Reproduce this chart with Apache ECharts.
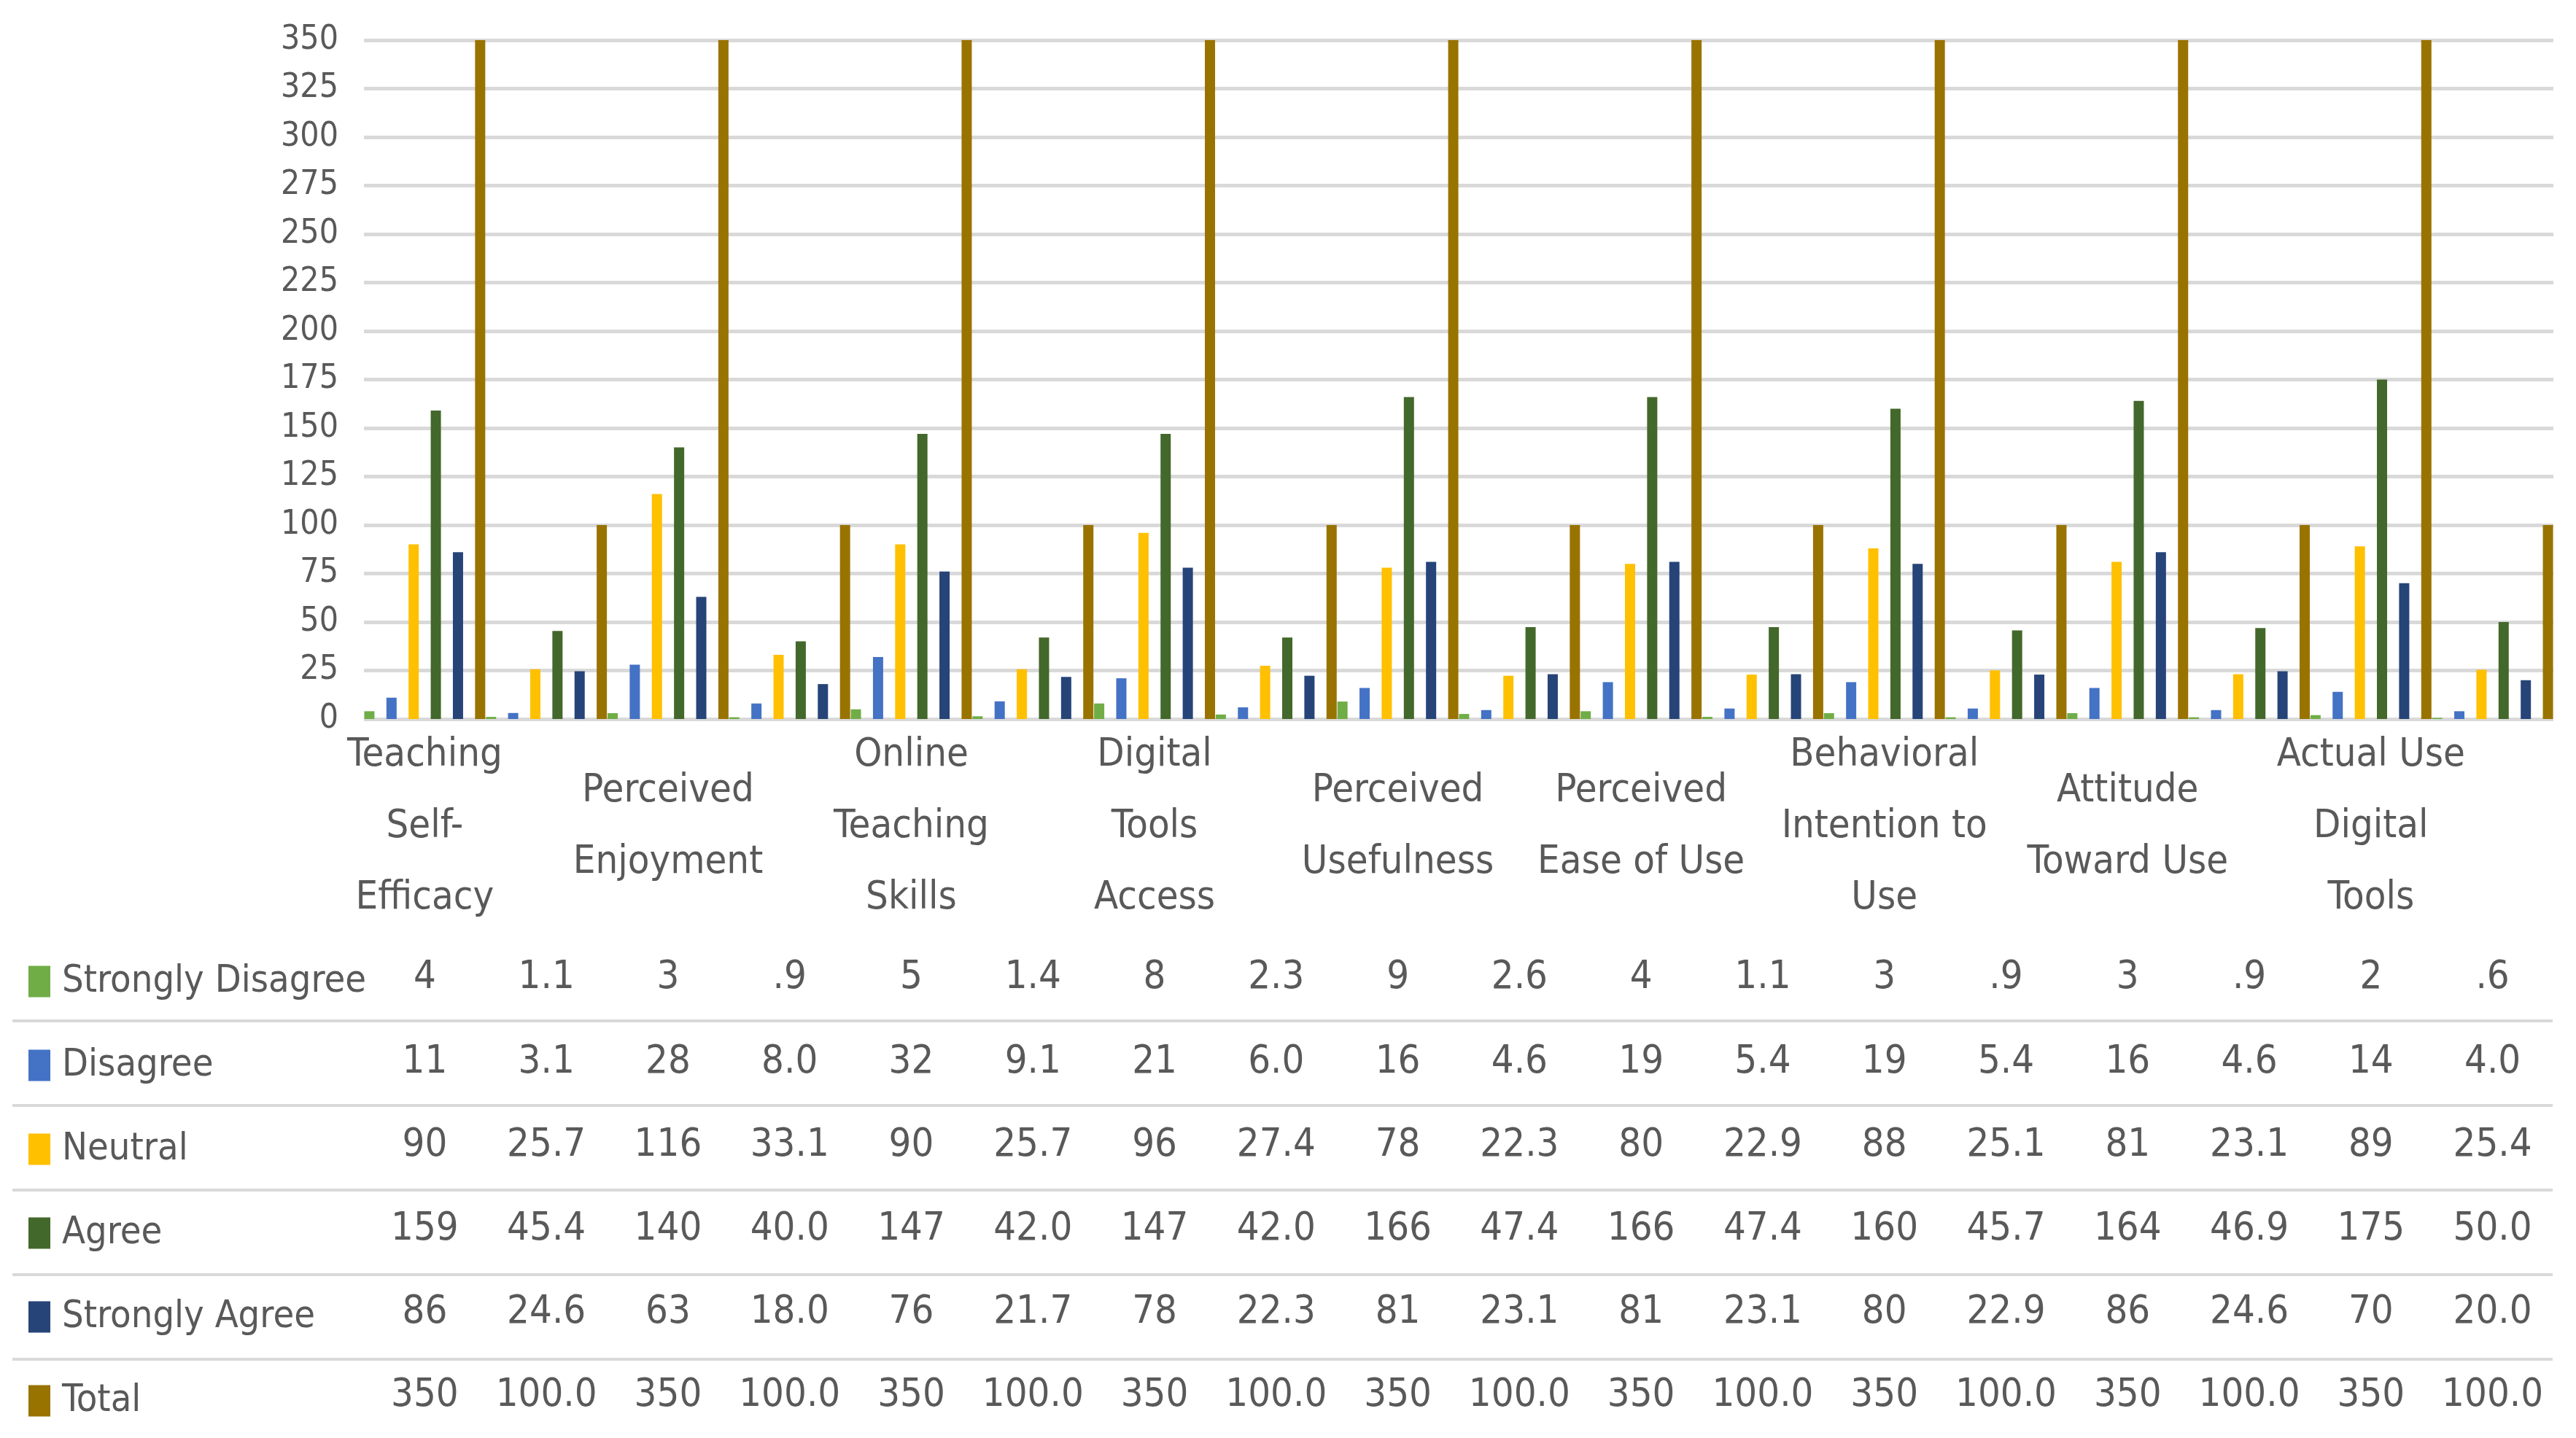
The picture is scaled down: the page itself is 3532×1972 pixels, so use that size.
<!DOCTYPE html>
<html>
<head>
<meta charset="utf-8">
<title>Survey responses by construct</title>
<script src="https://cdn.jsdelivr.net/npm/echarts@6/dist/echarts.min.js"></script>
<style>
  html, body { margin: 0; padding: 0; background: #fff; }
  #main { width: 3532px; height: 1972px; }
</style>
</head>
<body>
<div id="main"></div>
<script>
// constructs, each one has a count column and a percent column
var constructs = ['Teaching\nSelf-\nEfficacy', 'Perceived\nEnjoyment', 'Online\nTeaching\nSkills',
  'Digital\nTools\nAccess', 'Perceived\nUsefulness', 'Perceived\nEase of Use',
  'Behavioral\nIntention to\nUse', 'Attitude\nToward Use', 'Actual Use\nDigital\nTools'];

var levels = ['Strongly Disagree', 'Disagree', 'Neutral', 'Agree', 'Strongly Agree', 'Total'];
var colors = ['#70AD47', '#4472C4', '#FFC000', '#43682B', '#264478', '#997300'];

// count, percent, count, percent ...
var stronglyDisagree = [4, 1.1, 3, 0.9, 5, 1.4, 8, 2.3, 9, 2.6, 4, 1.1, 3, 0.9, 3, 0.9, 2, 0.6];
var disagree = [11, 3.1, 28, 8.0, 32, 9.1, 21, 6.0, 16, 4.6, 19, 5.4, 19, 5.4, 16, 4.6, 14, 4.0];
var neutral = [90, 25.7, 116, 33.1, 90, 25.7, 96, 27.4, 78, 22.3, 80, 22.9, 88, 25.1, 81, 23.1, 89, 25.4];
var agree = [159, 45.4, 140, 40.0, 147, 42.0, 147, 42.0, 166, 47.4, 166, 47.4, 160, 45.7, 164, 46.9, 175, 50.0];
var stronglyAgree = [86, 24.6, 63, 18.0, 76, 21.7, 78, 22.3, 81, 23.1, 81, 23.1, 80, 22.9, 86, 24.6, 70, 20.0];
var total = [350, 100.0, 350, 100.0, 350, 100.0, 350, 100.0, 350, 100.0, 350, 100.0, 350, 100.0, 350, 100.0, 350, 100.0];

var rows = [stronglyDisagree, disagree, neutral, agree, stronglyAgree, total];

var yTicks = { min: 0, max: 350, interval: 25 };

var font = "'Liberation Sans Narrow', 'DejaVu Sans Condensed', 'Liberation Sans', sans-serif";
var textColor = '#595959';
var baseY = 986;                       // where the 0 line sits
var rowCenters = [1341, 1457, 1571, 1686, 1800, 1914];

var columns = [];
for (var i = 0; i < stronglyDisagree.length; i++) columns.push('c' + i);

// table text: counts as integers, percents with one decimal and no leading zero
function cellText(v, idx) {
  if (idx % 2 === 0) return String(v);
  return v.toFixed(1).replace(/^0\./, '.');
}

var myChart = echarts.init(document.getElementById('main'));

var xAxes = [
  {
    type: 'category', gridIndex: 0, data: columns, position: 'bottom',
    axisLine: { show: false }, axisTick: { show: false }, axisLabel: { show: false }
  },
  {
    // construct names sit under the count column of each pair
    type: 'category', gridIndex: 0, data: columns, position: 'bottom', offset: 0,
    axisLine: { show: false }, axisTick: { show: false },
    axisLabel: {
      interval: 0, margin: 148, verticalAlign: 'middle', align: 'center',
      fontFamily: font, fontSize: 54, lineHeight: 98, color: textColor,
      formatter: function (val, idx) { return idx % 2 === 0 ? constructs[idx / 2] : ''; }
    }
  }
];

rows.forEach(function (row, r) {
  xAxes.push({
    type: 'category', gridIndex: 0, data: columns, position: 'bottom',
    offset: rowCenters[r] - baseY,
    axisLine: { show: false }, axisTick: { show: false },
    axisLabel: {
      interval: 0, margin: 0, verticalAlign: 'middle', align: 'center',
      fontFamily: font, fontSize: 54, color: textColor,
      formatter: function (val, idx) { return cellText(row[idx], idx); }
    }
  });
});

// hidden x axis for the table-lines grid
xAxes.push({ type: 'value', gridIndex: 1, show: false, min: 0, max: 1 });

var option = {
  backgroundColor: '#ffffff',
  animation: false,
  textStyle: { fontFamily: font },
  legend: {
    orient: 'vertical',
    left: 34,
    top: 1311,
    itemWidth: 30,
    itemHeight: 43,
    itemGap: 55,
    icon: 'rect',
    data: levels,
    textStyle: {
      fontFamily: font, fontSize: 52, lineHeight: 60, color: textColor,
      padding: [0, 0, 0, 11]
    }
  },
  grid: [
    { left: 499, right: 31, top: 55, bottom: 1972 - baseY },
    { left: 17, right: 32, top: 1400, bottom: 108 }
  ],
  xAxis: xAxes,
  yAxis: [
    {
      type: 'value', gridIndex: 0,
      min: yTicks.min, max: yTicks.max, interval: yTicks.interval,
      axisLine: { show: false }, axisTick: { show: false },
      splitLine: { lineStyle: { color: '#D9D9D9', width: 5 } },
      axisLabel: { fontFamily: font, fontSize: 46, color: textColor, margin: 35 }
    },
    {
      // row separators of the data table
      type: 'value', gridIndex: 1, min: 1, max: 5, interval: 1,
      axisLine: { show: false }, axisTick: { show: false }, axisLabel: { show: false },
      splitLine: { lineStyle: { color: '#D9D9D9', width: 4 } }
    }
  ],
  series: rows.map(function (row, r) {
    return {
      name: levels[r],
      type: 'bar',
      xAxisIndex: 0,
      yAxisIndex: 0,
      data: row,
      barWidth: 14,
      barGap: '117%',
      itemStyle: { color: colors[r] }
    };
  })
};

myChart.setOption(option);
</script>
</body>
</html>
